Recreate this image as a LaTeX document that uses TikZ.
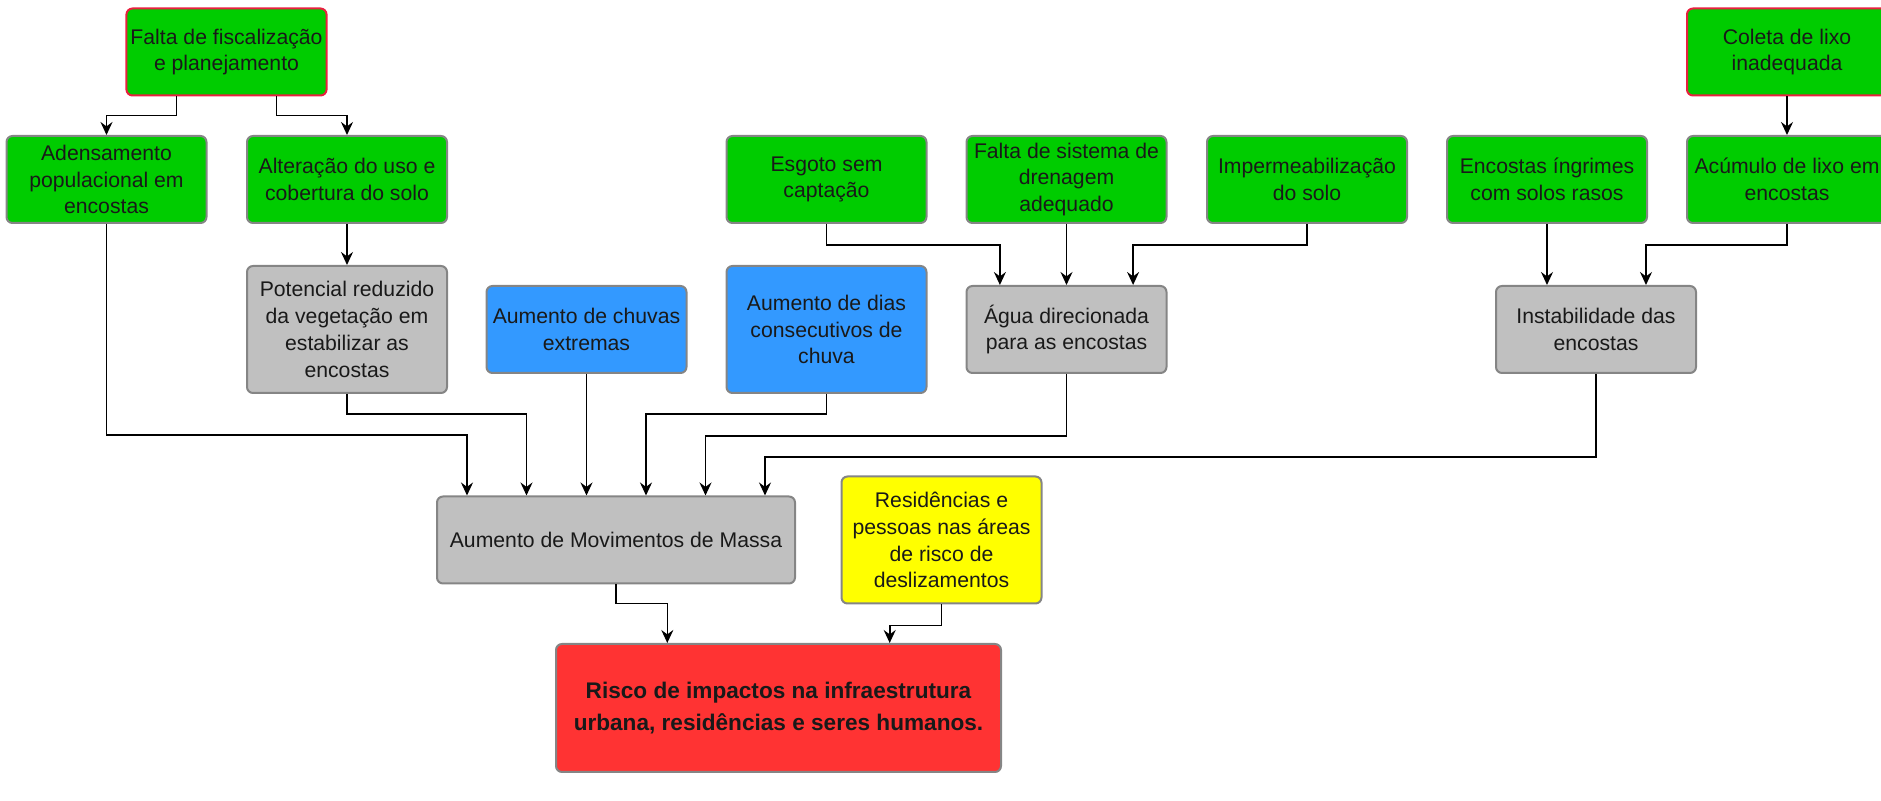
\documentclass[tikz,border=0pt]{standalone}
\usepackage{fontspec}
\setmainfont{Liberation Sans}
\usepackage{tikz}
\usetikzlibrary{arrows.meta}
\definecolor{verdecx}{HTML}{00CC00}
\definecolor{cinzacx}{HTML}{C0C0C0}
\definecolor{azulcx}{HTML}{3399FF}
\definecolor{amarelocx}{HTML}{FFFF00}
\definecolor{vermelhocx}{HTML}{FF3333}
\definecolor{bordacx}{HTML}{858585}
\definecolor{bordacausa}{HTML}{E8203F}
\tikzset{
  caixa/.style={draw=bordacx, line width=1pt, rounded corners=3pt, align=center,
    inner sep=2pt, minimum width=100pt, minimum height=43.5pt,
    font=\fontsize{10.6}{13.4}\selectfont, text=black!90},
  verde/.style={caixa, fill=verdecx},
  cinza/.style={caixa, fill=cinzacx},
  azul/.style={caixa, fill=azulcx},
  amarelo/.style={caixa, fill=amarelocx},
  vermelho/.style={caixa, fill=vermelhocx},
  causa/.style={draw=bordacausa},
  alta/.style={minimum height=63.5pt},
  seta/.style={-{Stealth[length=6.5pt,width=6pt,inset=2.2pt]}, line width=0.8pt, black}
}
\begin{document}
\begin{tikzpicture}[x=0.5pt,y=-0.5pt]
\useasboundingbox (0,0) rectangle (1881,801);
\node[verde,causa] (fisc) at (226.5,52) {Falta de fiscalização\\e planejamento};
\node[verde,causa] (coleta) at (1787,52) {Coleta de lixo\\inadequada};
\node[verde] (aden) at (106.5,179.5) {Adensamento\\populacional em\\encostas};
\node[verde] (alter) at (347,179.5) {Alteração do uso e\\cobertura do solo};
\node[verde] (esgoto) at (826.5,179.5) {Esgoto sem\\captação};
\node[verde] (drenag) at (1066.5,179.5) {Falta de sistema de\\drenagem\\adequado};
\node[verde] (imperm) at (1307,179.5) {Impermeabilização\\do solo};
\node[verde] (ingrim) at (1547,179.5) {Encostas íngrimes\\com solos rasos};
\node[verde] (acum) at (1787,179.5) {Acúmulo de lixo em\\encostas};
\node[cinza,alta] (potenc) at (347,329.5) {Potencial reduzido\\da vegetação em\\estabilizar as\\encostas};
\node[azul] (chuvas) at (586.5,329.5) {Aumento de chuvas\\extremas};
\node[azul,alta] (dias) at (826.5,329.5) {Aumento de dias\\consecutivos de\\chuva};
\node[cinza] (agua) at (1066.5,329.5) {Água direcionada\\para as encostas};
\node[cinza] (instab) at (1596,329.5) {Instabilidade das\\encostas};
\node[cinza,minimum width=179pt] (movim) at (616,540) {Aumento de Movimentos de Massa};
\node[amarelo,alta] (resid) at (941.5,540) {Residências e\\pessoas nas áreas\\de risco de\\deslizamentos};
\node[vermelho,minimum width=222.5pt,minimum height=64pt,font=\fontsize{11.3}{15.6}\selectfont\bfseries] (risco) at (778.5,708) {Risco de impactos na infraestrutura\\urbana, residências e seres humanos.};
\draw[seta] ([xshift=-25pt]fisc.south) -- ++(0,19) -| (aden.north);
\draw[seta] ([xshift=25pt]fisc.south) -- ++(0,19) -| (alter.north);
\draw[seta] (coleta) -- (acum);
\draw[seta] (alter) -- (potenc);
\draw[seta] (esgoto.south) -- ++(0,21) -| ([xshift=-33.3pt]agua.north);
\draw[seta] (drenag) -- (agua);
\draw[seta] (imperm.south) -- ++(0,21) -| ([xshift=33.3pt]agua.north);
\draw[seta] (ingrim.south) -- (ingrim.south |- instab.north);
\draw[seta] (acum.south) -- ++(0,21) -| ([xshift=25pt]instab.north);
\draw[seta] (aden.south) -- ++(0,211) -| ([xshift=-74.5pt]movim.north);
\draw[seta] (potenc.south) -- ++(0,20) -| ([xshift=-44.75pt]movim.north);
\draw[seta] (chuvas.south) -- (chuvas.south |- movim.north);
\draw[seta] (dias.south) -- ++(0,20) -| ([xshift=15pt]movim.north);
\draw[seta] (agua.south) -- ++(0,62) -| ([xshift=44.75pt]movim.north);
\draw[seta] (instab.south) -- ++(0,83) -| ([xshift=74.5pt]movim.north);
\draw[seta] (movim.south) -- ++(0,19) -| ([xshift=-55.6pt]risco.north);
\draw[seta] (resid.south) -- ++(0,21) -| ([xshift=55.6pt]risco.north);
\end{tikzpicture}
\end{document}
